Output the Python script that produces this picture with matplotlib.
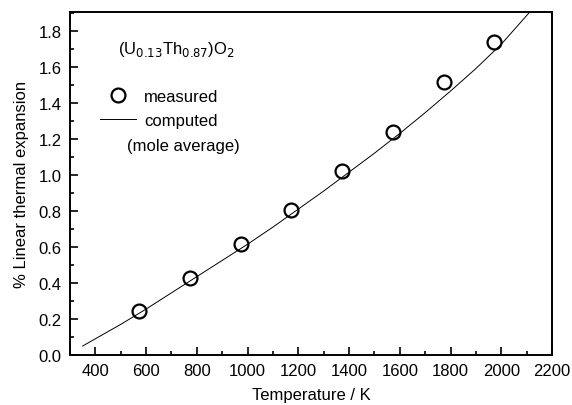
import matplotlib.pyplot as plt
from matplotlib.lines import Line2D
from matplotlib.ticker import MultipleLocator

plt.rcParams['font.family'] = ['Liberation Sans', 'DejaVu Sans']

# measured points
temp_meas = [573, 773, 973, 1173, 1373, 1573, 1773, 1973]
exp_meas = [0.244, 0.43, 0.617, 0.805, 1.022, 1.239, 1.517, 1.739]

# computed curve (mole average)
temp_calc = [350, 400, 500, 600, 700, 800, 900, 1000, 1100, 1200, 1300, 1400,
             1500, 1600, 1700, 1800, 1900, 2000, 2110]
exp_calc = [0.05, 0.09, 0.17, 0.255, 0.345, 0.435, 0.525, 0.615, 0.71, 0.81,
            0.91, 1.015, 1.12, 1.23, 1.345, 1.465, 1.59, 1.725, 1.9]

fs = 12

fig = plt.figure(figsize=(5.72, 4.06), dpi=100)
ax = fig.add_axes([0.1224, 0.1232, 0.8426, 0.8448])

ax.plot(temp_calc, exp_calc, color='black', lw=0.7)
ax.plot(temp_meas, exp_meas, 'o', mfc='none', mec='black', ms=10, mew=1.6)

ax.set_xlim(300, 2200)
ax.set_ylim(0.0, 1.904)
ax.xaxis.set_minor_locator(MultipleLocator(100))
ax.yaxis.set_minor_locator(MultipleLocator(0.1))
ax.set_xticks([400, 600, 800, 1000, 1200, 1400, 1600, 1800, 2000, 2200])
ax.set_yticks([0.0, 0.2, 0.4, 0.6, 0.8, 1.0, 1.2, 1.4, 1.6, 1.8])
ax.tick_params(which='both', direction='in', top=False, right=False, labelsize=fs, width=1.2)
ax.tick_params(which='major', length=6, pad=6)
ax.tick_params(which='minor', length=3)
for s in ax.spines.values():
    s.set_linewidth(1.4)

ax.set_xlabel('Temperature / K', fontsize=fs, labelpad=6)
ax.set_ylabel('% Linear thermal expansion', fontsize=fs, labelpad=7)

ax.text(0.1, 0.895, r'(U$_{0.13}$Th$_{0.87}$)O$_2$', transform=ax.transAxes,
        fontsize=fs, va='center', ha='left')

handles = [Line2D([], [], ls='none', marker='o', mfc='none', mec='black', ms=10, mew=1.6),
           Line2D([], [], color='black', lw=0.7)]
ax.legend(handles, ['measured', 'computed'], loc='upper left',
          bbox_to_anchor=(0.048, 0.795), frameon=False, fontsize=fs,
          handlelength=2.2, handletextpad=0.45, labelspacing=0.55, borderaxespad=0)
ax.text(0.118, 0.61, '(mole average)', transform=ax.transAxes,
        fontsize=fs, va='center', ha='left')

fig.savefig('out.png', dpi=100)
